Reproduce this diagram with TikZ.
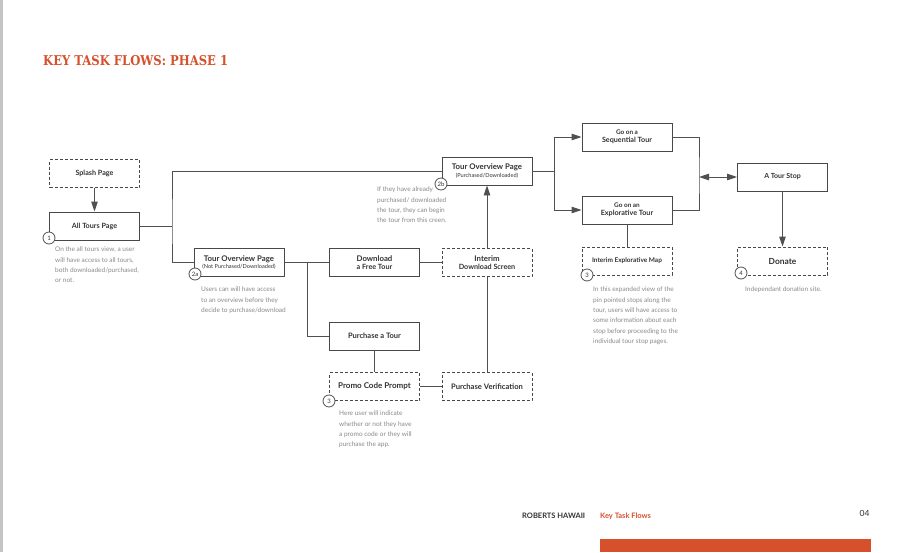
\documentclass[tikz,border=0pt]{standalone}
\usepackage{fontspec}
\setmainfont{Lato}
\newfontfamily\titlefont{DejaVu Serif}
\usetikzlibrary{arrows.meta}
\definecolor{ttl}{HTML}{D6502B}
\definecolor{ln}{HTML}{505050}
\definecolor{bx}{HTML}{484848}
\definecolor{tx}{HTML}{333333}
\definecolor{desc}{HTML}{8A8A8A}
\definecolor{side}{HTML}{C4C4C4}
\begin{document}
\begin{tikzpicture}[x=1pt,y=-1pt,
  box/.style={draw=bx, line width=0.95pt, fill=white, minimum width=90pt, minimum height=28pt, inner sep=1pt, align=center, text=tx, font=\fontsize{7.2}{8.5}\selectfont\bfseries},
  dbox/.style={box, dash pattern=on 3pt off 2pt},
  num/.style={circle, draw=ln, line width=0.8pt, fill=white, minimum size=12pt, inner sep=0pt, text=tx, font=\fontsize{6}{6}\selectfont},
  note/.style={anchor=north west, inner sep=0pt, align=left, text=desc, font=\fontsize{6.5}{10.3}\selectfont},
  conn/.style={draw=ln, line width=0.95pt},
  tip/.tip={Triangle[length=10pt,width=6.5pt]},
  arr/.style={conn, -tip},
]
\useasboundingbox (0,0) rectangle (902,552);
\fill[white] (0,0) rectangle (902,552);
\fill[side] (0,0) rectangle (3,552);

% title
\node[anchor=base west, inner sep=0pt, text=ttl] (title) at (43,65) {\resizebox{185pt}{10pt}{\titlefont\bfseries KEY TASK FLOWS: PHASE 1}};

% boxes
\node[dbox] (splash) at (94.5,173.5) {Splash Page};
\node[box] (alltours) at (94.5,226) {All Tours Page};
\node[box] (tov2a) at (239,262.5) {\fontsize{7.8}{9}\selectfont Tour Overview Page\\[-1.5pt]{\fontsize{5.6}{6.5}\selectfont\mdseries (Not Purchased/Downloaded)}};
\node[box] (download) at (374.5,262.5) {\fontsize{7.8}{9}\selectfont Download\\a Free Tour};
\node[box] (purchase) at (374.5,336) {\fontsize{7.5}{9}\selectfont Purchase a Tour};
\node[dbox] (promo) at (374.5,386.5) {\fontsize{8}{9}\selectfont Promo Code Prompt};
\node[dbox] (verif) at (487,386.5) {\fontsize{7.6}{9}\selectfont Purchase Verification};
\node[dbox] (interim) at (487,262.5) {\fontsize{7.8}{9}\selectfont Interim\\Download Screen};
\node[box] (tov2b) at (487,171) {\fontsize{7.8}{9}\selectfont Tour Overview Page\\[0pt]{\fontsize{5.6}{6.5}\selectfont\mdseries (Purchased/Downloaded)}};
\node[box] (seq) at (627,137) {\fontsize{6.4}{7.4}\selectfont Go on a\\Sequential Tour};
\node[box] (expl) at (627,210) {\fontsize{6.4}{7.4}\selectfont Go on an\\Explorative Tour};
\node[dbox] (expmap) at (627,261) {\fontsize{6.5}{7.5}\selectfont Interim Explorative Map};
\node[box] (stop) at (782.5,177) {\fontsize{7}{8}\selectfont A Tour Stop};
\node[dbox] (donate) at (782.5,261) {\fontsize{8.4}{9}\selectfont Donate};

% connectors
\coordinate (j1) at (172,226);
\coordinate (j2) at (307,262.5);
\coordinate (j3) at (554,171);
\coordinate (j4) at (699,177);
\draw[arr] (splash) -- (alltours);
\draw[conn] (alltours.east) -- (j1);
\draw[conn] (tov2b.west) -| (j1) |- (tov2a.west);
\draw[conn] (tov2a.east) -- (download.west);
\draw[conn] (j2) |- (purchase.west);
\draw[conn] (download.east) -- (interim.west);
\draw[arr] (interim.north) -- (tov2b.south);
\draw[conn] (verif.north) -- (interim.south);
\draw[conn] (purchase.south) -- (promo.north);
\draw[conn] (promo.east) -- (verif.west);
\draw[conn] (tov2b.east) -- (j3);
\draw[arr] (j3) |- (seq.west);
\draw[arr] (j3) |- (expl.west);
\draw[conn] (seq.east) -| (j4) |- (expl.east);
\draw[conn, tip-tip] (j4) -- (stop.west);
\draw[arr] (stop.south) -- (donate.north);
\draw[conn] (expl.south) -- (expmap.north);

% numbers
\node[num] (c1) at (49,238) {1};
\node[num] (c2a) at (195,274) {2a};
\node[num] (c2b) at (441,184) {2b};
\node[num] (c3a) at (329,401) {3};
\node[num] (c3b) at (587,275) {3};
\node[num] (c4) at (741,273) {4};

% notes
\node[note] (d1) at (55,247) {On the all tours view, a user\\will have access to all tours,\\both downloaded/purchased,\\or not.};
\node[note] (d2a) at (201,287) {Users can will have access\\to an overview before they\\decide to purchase/download};
\node[note] (d2b) at (377,187) {If they have already\\purchased/ downloaded\\the tour, they can begin\\the tour from this creen.};
\node[note] (d3a) at (339,411) {Here user will indicate\\whether or not they have\\a promo code or they will\\purchase the app.};
\node[note] (d3b) at (593,287) {In this expanded view of the\\pin pointed stops along the\\tour, users will have access to\\some information about each\\stop before proceeding to the\\individual tour stop pages.};
\node[note] (d4) at (745,287) {Independant donation site.};

% footer
\node[anchor=base west, inner sep=0pt, text=tx, font=\fontsize{7.5}{8}\selectfont\bfseries] (brand) at (522,518.5) {ROBERTS HAWAII};
\node[anchor=base west, inner sep=0pt, text=ttl, font=\fontsize{7.5}{8}\selectfont\bfseries] (sect) at (600,518.5) {Key Task Flows};
\node[anchor=base west, inner sep=0pt, text=tx, font=\fontsize{8.5}{9}\selectfont] (page) at (859.5,516.5) {04};
\fill[ttl] (600,539) rectangle (871,552);
\end{tikzpicture}
\end{document}
